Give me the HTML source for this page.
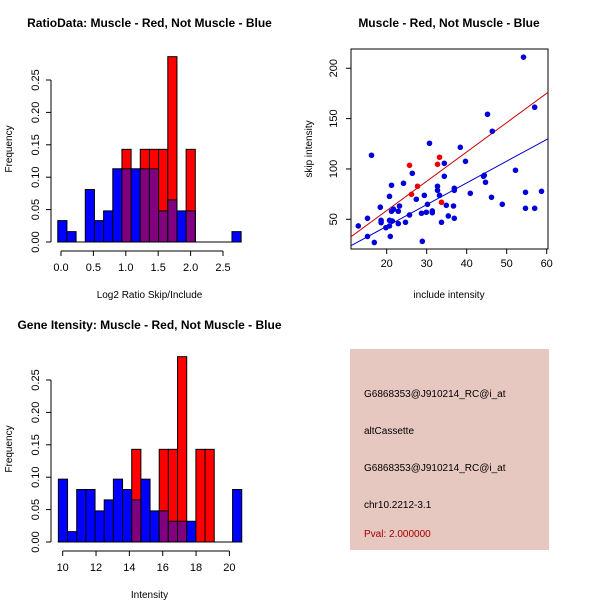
<!DOCTYPE html>
<html><head><meta charset="utf-8"><style>
body{margin:0;background:#fff}
svg{display:block;font-family:"Liberation Sans",sans-serif}
</style></head><body>
<svg id="s" width="600" height="600">
<rect width="600" height="600" fill="#fff"/>
<text x="149.5" y="27" font-size="12" font-weight="bold" text-anchor="middle">RatioData: Muscle - Red, Not Muscle - Blue</text>
<text x="449" y="27" font-size="12" font-weight="bold" text-anchor="middle">Muscle - Red, Not Muscle - Blue</text>
<text x="149.5" y="329" font-size="12" font-weight="bold" text-anchor="middle">Gene Itensity: Muscle - Red, Not Muscle - Blue</text>
<g id="h1"></g>
<g id="h2"></g>
<g id="sc"></g>
<g>
<rect x="350" y="349" width="199" height="201" fill="#e6c8c0"/>
<text x="364" y="397" font-size="10" fill="#000">G6868353@J910214_RC@i_at</text>
<text x="364" y="434" font-size="10" fill="#000">altCassette</text>
<text x="364" y="471" font-size="10" fill="#000">G6868353@J910214_RC@i_at</text>
<text x="364" y="508" font-size="10" fill="#000">chr10.2212-3.1</text>
<text x="364" y="537" font-size="10" fill="#a00000">Pval: 2.000000</text>
</g>
</svg>
<script>
const NS="http://www.w3.org/2000/svg";
// Ratio histogram data
const ratioBinStart=-0.05, ratioBinWidth=0.1415;
const ratioBlue=[0.033,0.016,0,0.081,0.033,0.048,0.113,0.113,0.113,0.113,0.113,0.048,0.065,0.048,0.048,0,0,0,0,0.016];
const ratioRed=[0,0,0,0,0,0,0,0.143,0,0.143,0.143,0.143,0.286,0,0.143,0,0,0,0,0];
const ratioTicks=[0,0.5,1,1.5,2,2.5];
const ratioTickLabels=["0.0","0.5","1.0","1.5","2.0","2.5"];
// Intensity histogram data
const intBinStart=9.74, intBinWidth=0.55;
const intBlue=[0.097,0.016,0.081,0.081,0.048,0.065,0.097,0.081,0.065,0.097,0.048,0.048,0.032,0.032,0.032,0,0,0,0,0.081];
const intRed=[0,0,0,0,0,0,0,0,0.143,0,0,0.143,0.143,0.286,0,0.143,0.143,0,0,0];
const intTicks=[10,12,14,16,18,20];
const freqTicks=[0,0.05,0.1,0.15,0.2,0.25];
const freqTickLabels=["0.00","0.05","0.10","0.15","0.20","0.25"];
// Scatter data
const blueX=[12.9,15.2,15.2,16.2,16.9,18.4,18.6,18.6,19.8,20.7,20.7,20.7,20.9,21.2,21.2,21.4,21.7,22.9,22.9,23.2,24.2,24.7,25.7,26.4,27.4,28.7,28.9,29.4,29.9,30.2,30.7,31.4,31.4,32.7,32.7,33.2,33.7,34.4,34.4,34.9,35.4,36.7,36.9,36.9,36.9,38.4,39.7,40.9,44.2,44.4,44.7,45.2,46.2,46.4,48.9,52.2,54.2,54.7,54.7,57,57,58.7];
const blueY=[43.4,51,33,113.6,27,62,49,46.7,41.7,72.8,49,43.4,33,83.8,58,48.3,60,58,45.7,63.2,85.8,47,54.3,95.7,69.9,56,28.1,73.8,57,64.9,125.5,58.3,56.6,82.8,78.8,73.8,47,105.6,92.7,63.9,53.3,63.2,80.8,78.8,51,121.5,107.6,75.8,92.7,93.7,86.8,154.3,71.9,137.4,64.9,98.7,211,76.8,60.9,161.3,60.9,77.8];
const redX=[25.7,26.2,27.7,32.7,33.2,33.7];
const redY=[103.6,74.8,82.8,104.6,111.6,66.9];
const fitRed=[0.5,2.91];   // intercept, slope
const fitBlue=[-0.1,2.156];
const scXTicks=[20,30,40,50,60];
const scYTicks=[50,100,150,200];

function el(p,t,a){const e=document.createElementNS(NS,t);for(const k in a)e.setAttribute(k,a[k]);p.appendChild(e);return e;}

function hist(g,x0,binStart,binW,pxPerUnit,tickVal,blue,red,ticks,tickLabels,xlabel){
  const y0=g===h1?242:542, ys=648;
  const X=v=>x0+(v-tickVal)*pxPerUnit, Y=v=>y0-v*ys;
  for(let i=0;i<blue.length;i++){
    const a=X(binStart+i*binW), b=X(binStart+(i+1)*binW);
    const draw=(v,c,nm)=>{if(v<=0)return;const r=el(g,'rect',{x:a,y:Y(v),width:b-a,height:v*ys,fill:c,stroke:'#000','stroke-width':1});
      
      };
    draw(blue[i],'#0000ff','bar-blue-'+i);
    draw(red[i],'#ff0000','bar-red-'+i);
    const m=Math.min(blue[i],red[i]);
    draw(m,'#800080','bar-overlap-'+i);
  }
  el(g,'line',{x1:X(binStart)-0.5,x2:X(binStart+blue.length*binW)+0.5,y1:y0,y2:y0,stroke:'#000'});
  const ay=y0+9;
  el(g,'line',{x1:X(ticks[0]),x2:X(ticks[ticks.length-1]),y1:ay,y2:ay,stroke:'#000'});
  ticks.forEach((t,i)=>{el(g,'line',{x1:X(t),x2:X(t),y1:ay,y2:ay+5,stroke:'#000'});
    const tx=el(g,'text',{x:X(t),y:ay+20,'font-size':11,'text-anchor':'middle'});tx.textContent=tickLabels[i];
    
    });
  const xl=el(g,'text',{x:149.5,y:y0+56,'font-size':10,'text-anchor':'middle'});xl.textContent=xlabel;
  
  
  el(g,'line',{x1:51,x2:51,y1:Y(0),y2:Y(0.25),stroke:'#000'});
  freqTicks.forEach((t,i)=>{el(g,'line',{x1:46,x2:51,y1:Y(t),y2:Y(t),stroke:'#000'});
    const tx=el(g,'text',{x:0,y:0,'font-size':11,'text-anchor':'middle',transform:`translate(39,${Y(t)}) rotate(-90)`});tx.textContent=freqTickLabels[i];
    
    });
  const yl=el(g,'text',{x:0,y:0,'font-size':10,'text-anchor':'middle',transform:`translate(12,${y0-93}) rotate(-90)`});yl.textContent='Frequency';
  
  
}
const h1=document.getElementById('h1'),h2=document.getElementById('h2');
hist(h1,61,ratioBinStart,ratioBinWidth,64.8,0,ratioBlue,ratioRed,ratioTicks,ratioTickLabels,'Log2 Ratio Skip/Include');
hist(h2,62.7,intBinStart,intBinWidth,16.67,10,intBlue,intRed,intTicks,intTicks.map(String),'Intensity');

// scatter
const sc=document.getElementById('sc');
const SX=v=>386.7+(v-20)*4, SY=v=>219.3-(v-50)*1.007;
el(sc,'rect',{x:351,y:49,width:197,height:200,fill:'none',stroke:'#000'});
const clip=el(sc,'clipPath',{id:'cp'});el(clip,'rect',{x:351,y:49,width:197,height:200});
[[fitRed,'#cc0000','fit-line-red'],[fitBlue,'#0000cc','fit-line-blue']].forEach(([f,c,n])=>{
  const l=el(sc,'line',{x1:SX(10),y1:SY(f[0]+f[1]*10),x2:SX(62),y2:SY(f[0]+f[1]*62),stroke:c,'clip-path':'url(#cp)'});
  
  
});
blueX.forEach((x,i)=>{const c=el(sc,'circle',{cx:SX(x),cy:SY(blueY[i]),r:2.8,fill:'#0000dd'});
  
  });
redX.forEach((x,i)=>{const c=el(sc,'circle',{cx:SX(x),cy:SY(redY[i]),r:2.8,fill:'#ee0000'});
  
  });
scXTicks.forEach(t=>{el(sc,'line',{x1:SX(t),x2:SX(t),y1:249,y2:254,stroke:'#000'});
  const tx=el(sc,'text',{x:SX(t),y:267,'font-size':11,'text-anchor':'middle'});tx.textContent=t;
  
  });
scYTicks.forEach(t=>{el(sc,'line',{x1:346,x2:351,y1:SY(t),y2:SY(t),stroke:'#000'});
  const tx=el(sc,'text',{x:0,y:0,'font-size':11,'text-anchor':'middle',transform:`translate(337,${SY(t)}) rotate(-90)`});tx.textContent=t;
  
  });
const sxl=el(sc,'text',{x:449,y:298,'font-size':10,'text-anchor':'middle'});sxl.textContent='include intensity';


const syl=el(sc,'text',{x:0,y:0,'font-size':10,'text-anchor':'middle',transform:'translate(312,149) rotate(-90)'});syl.textContent='skip intensity';


</script>
</body></html>
